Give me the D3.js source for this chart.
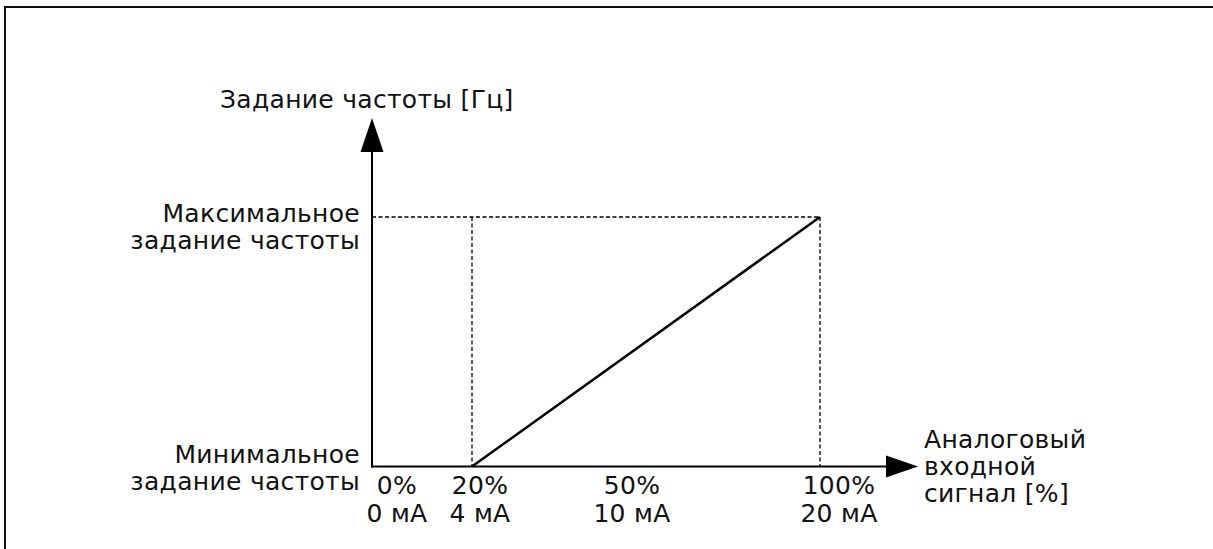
<!DOCTYPE html>
<html lang="ru">
<head>
<meta charset="UTF-8">
<title>Задание частоты</title>
<script src="https://d3js.org/d3.v7.min.js"></script>
<style>
  html, body { margin: 0; padding: 0; background: #fff; }
  svg text { font-family: "DejaVu Sans", Verdana, sans-serif; font-size: 25px; letter-spacing: 0.3px; fill: #111; }
</style>
</head>
<body>
<div id="chart"></div>
<script>
(function(d3) {
  'use strict';

  // signal ticks (percent of analog input) and their labels
  var tickPct = [0, 20, 50, 100];
  var tickPctLabels = ['0%', '20%', '50%', '100%'];
  var tickMaLabels = ['0 мА', '4 мА', '10 мА', '20 мА'];

  // reference line: signal % -> frequency level (0 = min, 1 = max)
  var lineSignal = [20, 100];
  var lineFreq = [0, 1];

  var freqLevels = [0, 1];
  var freqLabels = [['Минимальное', 'задание частоты'], ['Максимальное', 'задание частоты']];

  var yTitle = 'Задание частоты [Гц]';
  var xTitle = ['Аналоговый', 'входной', 'сигнал [%]'];

  var width = 1213, height = 549;
  var x0 = 372, y0 = 466.5;      // axis origin
  var lh = 27;                    // line height of labels

  var svg = d3.select('#chart').append('svg')
    .attr('width', width)
    .attr('height', height);

  // frame
  svg.append('rect')
    .attr('x', 5).attr('y', 7)
    .attr('width', 1240).attr('height', 580)
    .attr('fill', 'none').attr('stroke', '#111').attr('stroke-width', 2);

  // scales
  var x = d3.scaleLinear().domain([20, 100]).range([472, 820]);
  var xLab = d3.scaleLinear().domain(tickPct).range([397, 480, 632, 839]);
  var y = d3.scaleLinear().domain([0, 1]).range([y0, 217]);

  // dashed guides
  var dash = svg.append('g')
    .attr('stroke', '#000').attr('stroke-width', 1.3)
    .attr('stroke-dasharray', '4,2.5').attr('fill', 'none');
  dash.append('line')
    .attr('x1', x0).attr('x2', x(100))
    .attr('y1', y(1)).attr('y2', y(1));
  dash.selectAll('line.v')
    .data(lineSignal)
    .enter().append('line')
    .attr('class', 'v')
    .attr('x1', function(d) { return x(d); })
    .attr('x2', function(d) { return x(d); })
    .attr('y1', y(1)).attr('y2', y0);

  // axes with arrows
  var axes = svg.append('g').attr('stroke', '#000').attr('stroke-width', 2);
  axes.append('line').attr('x1', x0).attr('x2', x0).attr('y1', y0 + 1).attr('y2', 150);
  axes.append('line').attr('x1', x0 - 1).attr('x2', 888).attr('y1', y0).attr('y2', y0);

  svg.append('path')
    .attr('d', 'M' + x0 + ',118L' + (x0 + 11.5) + ',152L' + (x0 - 11.5) + ',152Z')
    .attr('fill', '#000');
  svg.append('path')
    .attr('d', 'M918,' + y0 + 'L886,' + (y0 - 11) + 'L886,' + (y0 + 11) + 'Z')
    .attr('fill', '#000');

  // reference line
  var line = d3.line()
    .x(function(d) { return x(d[0]); })
    .y(function(d) { return y(d[1]); });
  svg.append('path')
    .datum(d3.zip(lineSignal, lineFreq))
    .attr('d', line)
    .attr('fill', 'none')
    .attr('stroke', '#000')
    .attr('stroke-width', 2.5);

  // y labels
  var yl = svg.selectAll('text.ylab')
    .data(freqLevels)
    .enter().append('text')
    .attr('class', 'ylab')
    .attr('text-anchor', 'end')
    .attr('x', 360)
    .attr('y', function(d) { return y(d) - (d === 0 ? 3.5 : -4.5); });
  yl.selectAll('tspan')
    .data(function(d, i) { return freqLabels[i]; })
    .enter().append('tspan')
    .attr('x', 360)
    .attr('dy', function(d, i) { return i === 0 ? 0 : lh; })
    .text(function(d) { return d; });

  // x tick labels
  var xt = svg.selectAll('text.xlab')
    .data(tickPct)
    .enter().append('text')
    .attr('class', 'xlab')
    .attr('text-anchor', 'middle')
    .attr('x', function(d) { return xLab(d); })
    .attr('y', 493.5);
  xt.append('tspan').text(function(d, i) { return tickPctLabels[i]; });
  xt.append('tspan')
    .attr('x', function(d) { return xLab(d); })
    .attr('dy', 28.5)
    .text(function(d, i) { return tickMaLabels[i]; });

  // axis titles
  svg.append('text').attr('x', 220).attr('y', 108).text(yTitle);
  svg.append('text').attr('x', 924).attr('y', 448)
    .selectAll('tspan').data(xTitle).enter().append('tspan')
    .attr('x', 924)
    .attr('dy', function(d, i) { return i === 0 ? 0 : lh; })
    .text(function(d) { return d; });

})(window.d3);
</script>
</body>
</html>
